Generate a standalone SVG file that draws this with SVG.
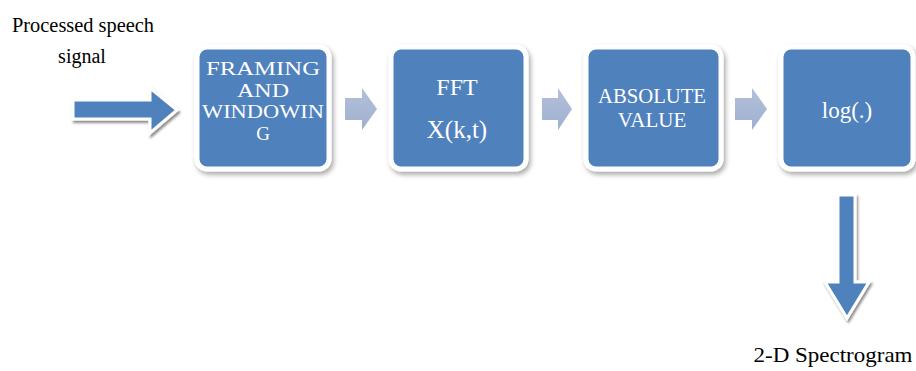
<svg xmlns="http://www.w3.org/2000/svg" width="916" height="371" viewBox="0 0 916 371">
  <defs>
    <filter id="sh" x="-20%" y="-20%" width="140%" height="140%">
      <feDropShadow dx="2" dy="3" stdDeviation="2.5" flood-color="#000" flood-opacity="0.35"/>
    </filter>
    <filter id="ash" x="-20%" y="-20%" width="140%" height="140%">
      <feDropShadow dx="1.5" dy="2.5" stdDeviation="1.2" flood-color="#000" flood-opacity="0.45"/>
    </filter>
    <linearGradient id="sg" x1="0" y1="0" x2="0" y2="1">
      <stop offset="0" stop-color="#b3c0da"/>
      <stop offset="1" stop-color="#9fb0cf"/>
    </linearGradient>
  </defs>
  <style>
    .box { fill: #4f81bd; stroke: #ffffff; stroke-width: 5; filter: url(#sh); }
    text { font-family: 'Liberation Serif', 'DejaVu Serif', serif; }
    .bt { fill: #ffffff; text-anchor: middle; }
    .lt { fill: #000000; text-anchor: middle; }
    .small { fill: url(#sg); }
    .big { fill: #4f81bd; stroke: #ffffff; stroke-width: 3; filter: url(#ash); }
  </style>
  <rect width="916" height="371" fill="#ffffff"/>

  <g id="input-label">
    <text class="lt" x="83" y="32" font-size="20" textLength="142" lengthAdjust="spacingAndGlyphs">Processed speech</text>
    <text class="lt" x="82" y="63" font-size="20">signal</text>
  </g>

  <g id="node-framing">
    <rect class="box" x="197" y="47" width="132" height="122" rx="10"/>
    <text class="bt" x="263" y="75" font-size="19" textLength="114" lengthAdjust="spacingAndGlyphs">FRAMING</text>
    <text class="bt" x="263" y="97" font-size="19" textLength="52" lengthAdjust="spacingAndGlyphs">AND</text>
    <text class="bt" x="263" y="118" font-size="19" textLength="122" lengthAdjust="spacingAndGlyphs">WINDOWIN</text>
    <text class="bt" x="263" y="140" font-size="19">G</text>
  </g>

  <g id="node-fft">
    <rect class="box" x="391" y="47" width="135" height="122" rx="10"/>
    <text class="bt" x="457" y="95" font-size="24">FFT</text>
    <text class="bt" x="457" y="138" font-size="25">X(k,t)</text>
  </g>

  <g id="node-abs">
    <rect class="box" x="586" y="47" width="135" height="122" rx="10"/>
    <text class="bt" x="652" y="103" font-size="21" textLength="108" lengthAdjust="spacingAndGlyphs">ABSOLUTE</text>
    <text class="bt" x="652" y="127" font-size="21">VALUE</text>
  </g>

  <g id="node-log">
    <rect class="box" x="781" y="47" width="132" height="122" rx="10"/>
    <text class="bt" x="847" y="118" font-size="23">log(.)</text>
  </g>

  <g id="output-label">
    <text class="lt" x="833" y="362" font-size="21" textLength="159" lengthAdjust="spacingAndGlyphs">2-D Spectrogram</text>
  </g>

  <g id="connectors">
    <polygon class="big" points="73,100 150,100 150,88 177,110 150,133 150,119 73,119"/>
    <polygon class="small" points="345,98 362,98 362,88 377,109 362,130 362,120 345,120"/>
    <polygon class="small" points="542,98 558,98 558,88 572,109 558,130 558,120 542,120"/>
    <polygon class="small" points="735,98 752,98 752,88 767,109 752,130 752,120 735,120"/>
    <polygon class="big" points="838,195 855,195 855,282 869,282 847,318 825,282 838,282"/>
  </g>
</svg>
